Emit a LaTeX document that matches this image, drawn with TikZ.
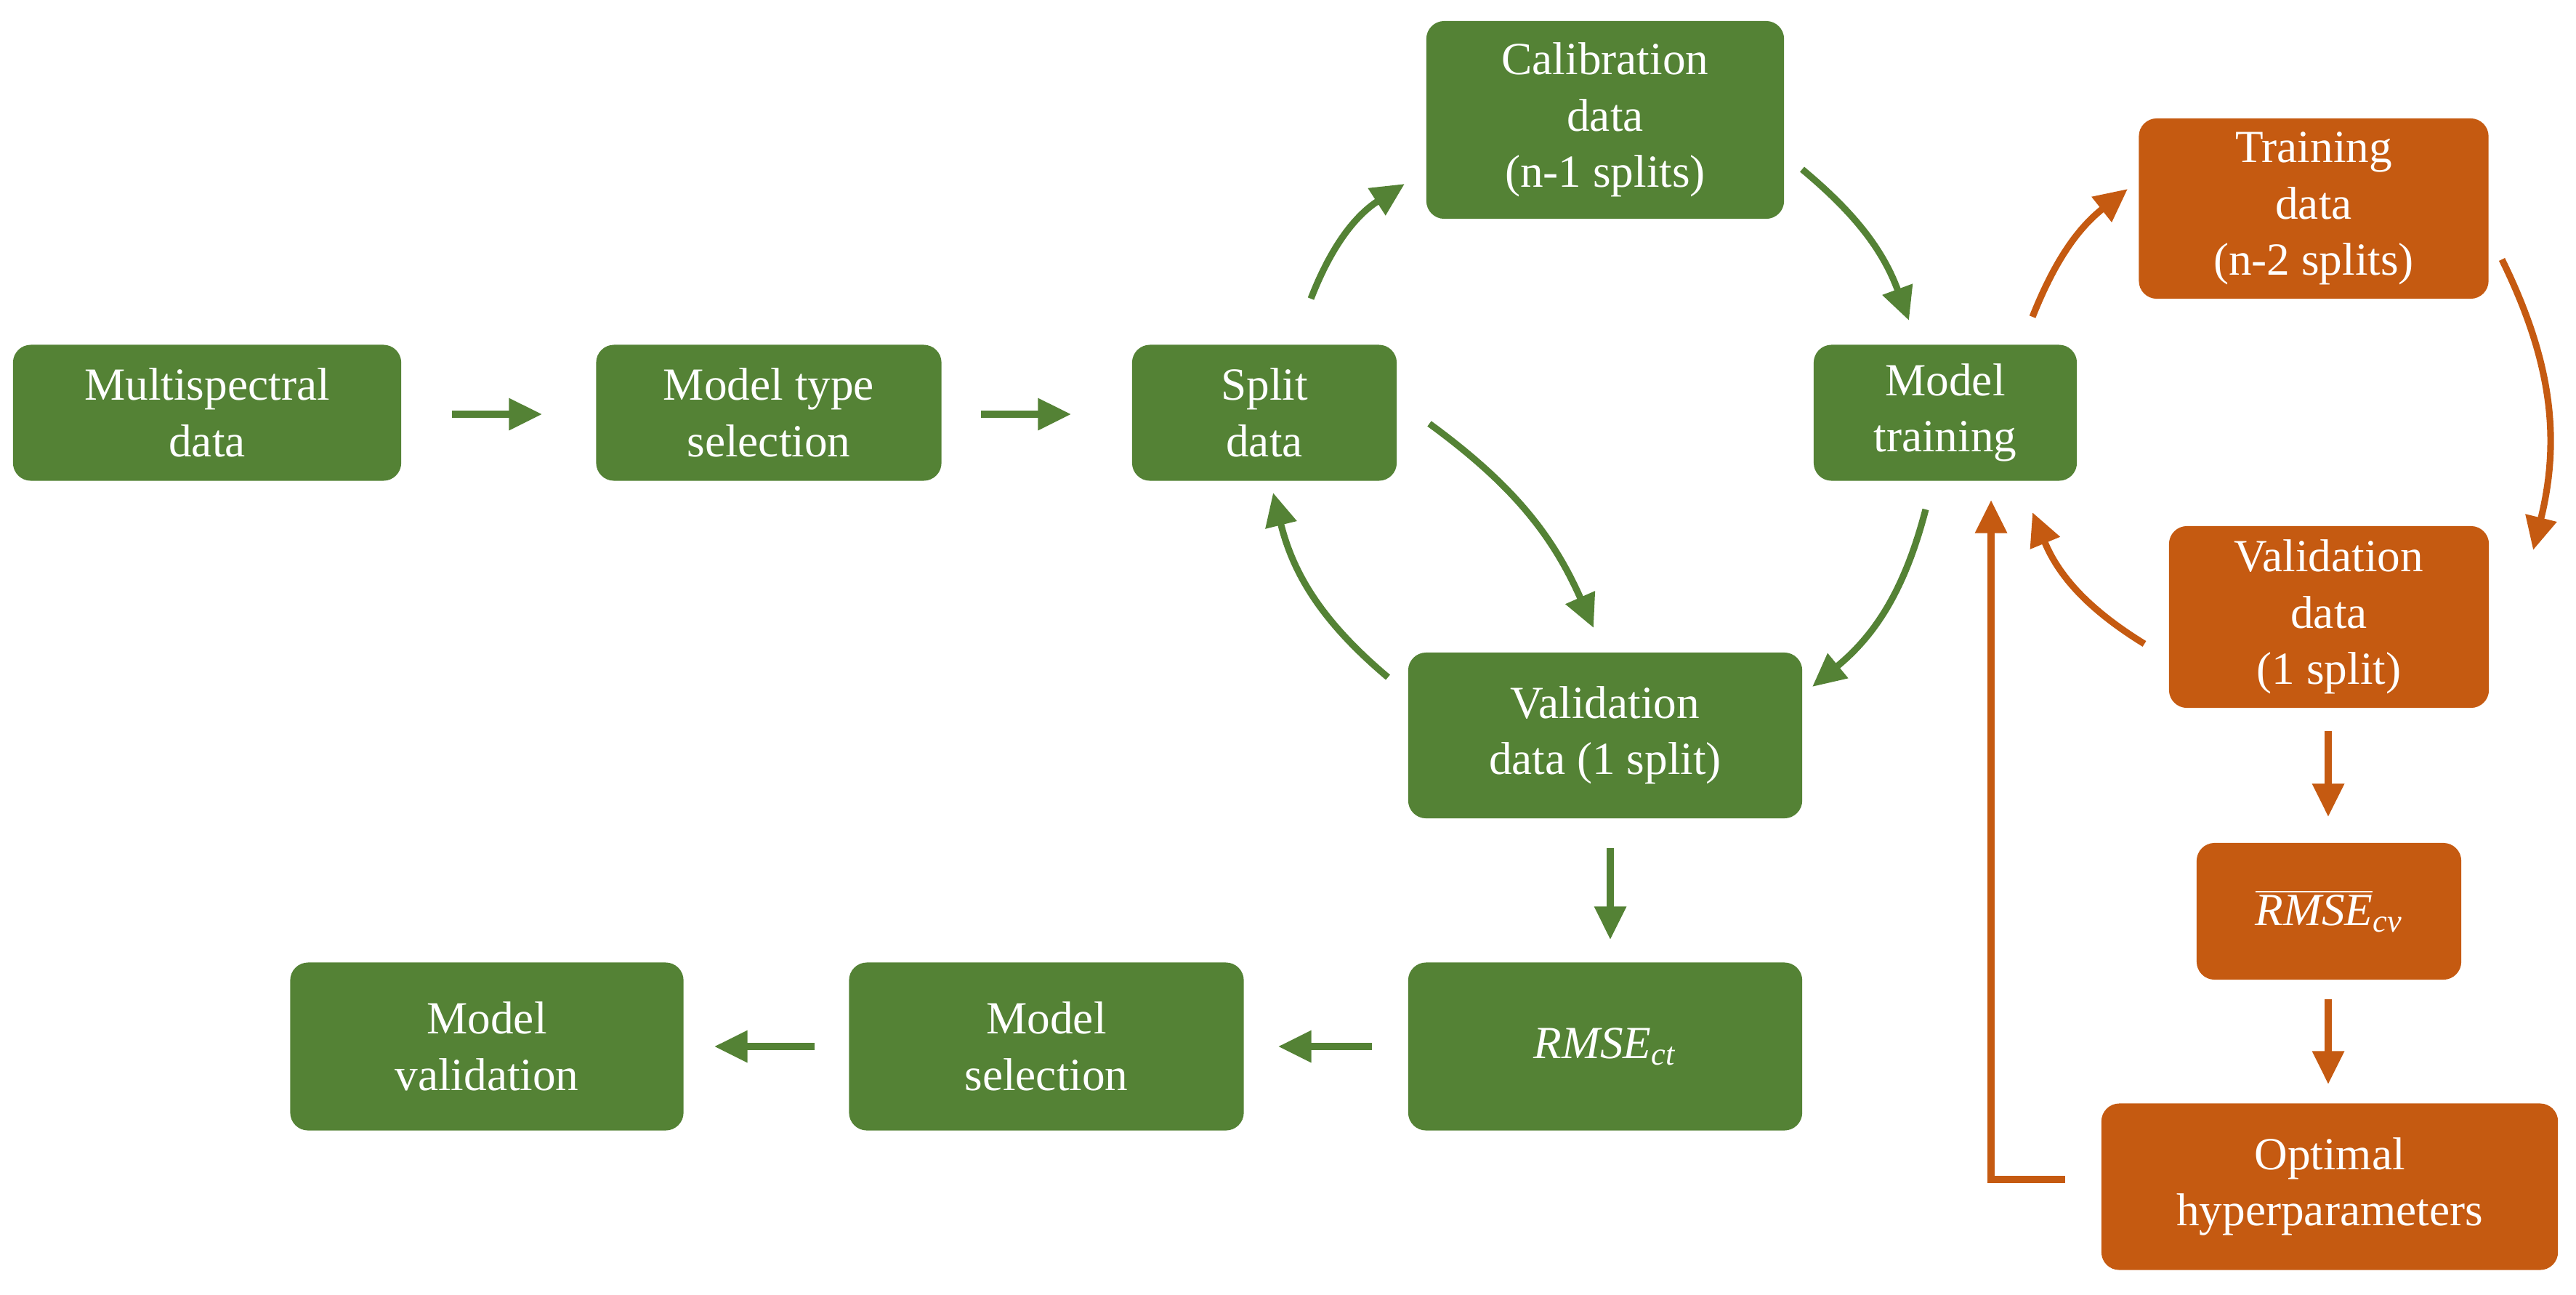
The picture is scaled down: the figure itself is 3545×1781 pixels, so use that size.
\documentclass[tikz,border=0pt]{standalone}
\usepackage{fontspec}
\setmainfont{Liberation Serif}
\usetikzlibrary{arrows.meta}
\definecolor{gr}{HTML}{548235}
\definecolor{og}{HTML}{C55A11}
\begin{document}
\begin{tikzpicture}[x=0.01cm,y=-0.01cm,
  box/.style={fill=#1,draw=none,rounded corners=7pt,text=white,align=center,
    font=\fontsize{18}{22}\selectfont,inner sep=0pt},
  ar/.style={draw=#1,line width=2.6pt,-{Triangle[length=13pt,width=12pt]}}]
\useasboundingbox (0,0) rectangle (3545,1781);
% green boxes
\node[box=gr,minimum width=5.34cm,minimum height=1.87cm] (ms) at (285,568) {Multispectral\\data};
\node[box=gr,minimum width=4.75cm,minimum height=1.87cm] (mt) at (1058,568) {Model type\\selection};
\node[box=gr,minimum width=3.64cm,minimum height=1.87cm] (sd) at (1740,568) {Split\\data};
\node[box=gr,minimum width=4.92cm,minimum height=2.72cm] (cal) at (2209,165) {Calibration\\data\\(n-1 splits)};
\node[box=gr,minimum width=3.62cm,minimum height=1.87cm] (tr) at (2677,568) {Model\\training};
\node[box=gr,minimum width=5.42cm,minimum height=2.28cm] (vg) at (2209,1012) {Validation\\data (1 split)};
\node[box=gr,minimum width=5.42cm,minimum height=2.31cm] (rct) at (2209,1440) {\textit{RMSE}\textsubscript{\textit{ct}}};
\node[box=gr,minimum width=5.43cm,minimum height=2.31cm] (msel) at (1440,1440) {Model\\selection};
\node[box=gr,minimum width=5.41cm,minimum height=2.31cm] (mval) at (670,1440) {Model\\validation};
% orange boxes
\node[box=og,minimum width=4.81cm,minimum height=2.48cm] (td) at (3184,287) {Training\\data\\(n-2 splits)};
\node[box=og,minimum width=4.40cm,minimum height=2.50cm] (vo) at (3205,849) {Validation\\data\\(1 split)};
\node[box=og,minimum width=3.64cm,minimum height=1.88cm] (rcv) at (3205,1254) {$\overline{\hbox{\itshape RMSE}}$\textsubscript{\textit{cv}}};
\node[box=og,minimum width=6.28cm,minimum height=2.29cm] (opt) at (3206,1633) {Optimal\\hyperparameters};
% coordinates
\coordinate (a1) at (622,570); \coordinate (a2) at (746,570);
\coordinate (b1) at (1350,570); \coordinate (b2) at (1474,570);
\coordinate (c1) at (1804,411); \coordinate (c2) at (1933,253);
\coordinate (d1) at (2480,233); \coordinate (d2) at (2627,441);
\coordinate (e1) at (2650,701); \coordinate (e2) at (2494,945);
\coordinate (f1) at (1910,932); \coordinate (f2) at (1752,678);
\coordinate (g1) at (1967,583); \coordinate (g2) at (2193,864);
\coordinate (h1) at (2216,1167); \coordinate (h2) at (2216,1293);
\coordinate (i1) at (1888,1440); \coordinate (i2) at (1759,1440);
\coordinate (j1) at (1121,1440); \coordinate (j2) at (983,1440);
\coordinate (k1) at (2797,436); \coordinate (k2) at (2928,260);
\coordinate (l1) at (3443,357); \coordinate (l2) at (3486,757);
\coordinate (m1) at (2951,886); \coordinate (m2) at (2797,705);
\coordinate (n1) at (3204,1006); \coordinate (n2) at (3204,1124);
\coordinate (o1) at (3204,1375); \coordinate (o2) at (3204,1492);
\coordinate (p1) at (2842,1623); \coordinate (p2) at (2740,1623); \coordinate (p3) at (2740,688);
% green arrows
\draw[ar=gr] (a1) -- (a2);
\draw[ar=gr] (b1) -- (b2);
\draw[ar=gr] (c1) to[bend left=18] (c2);
\draw[ar=gr] (d1) to[bend left=15] (d2);
\draw[ar=gr] (e1) to[bend left=18] (e2);
\draw[ar=gr] (f1) to[bend left=18] (f2);
\draw[ar=gr] (g1) to[bend left=15] (g2);
\draw[ar=gr] (h1) -- (h2);
\draw[ar=gr] (i1) -- (i2);
\draw[ar=gr] (j1) -- (j2);
% orange arrows
\draw[ar=og] (k1) to[bend left=15] (k2);
\draw[ar=og] (l1) to[bend left=20] (l2);
\draw[ar=og] (m1) to[bend left=18] (m2);
\draw[ar=og] (n1) -- (n2);
\draw[ar=og] (o1) -- (o2);
\draw[ar=og] (p1) -- (p2) -- (p3);
\end{tikzpicture}
\end{document}
